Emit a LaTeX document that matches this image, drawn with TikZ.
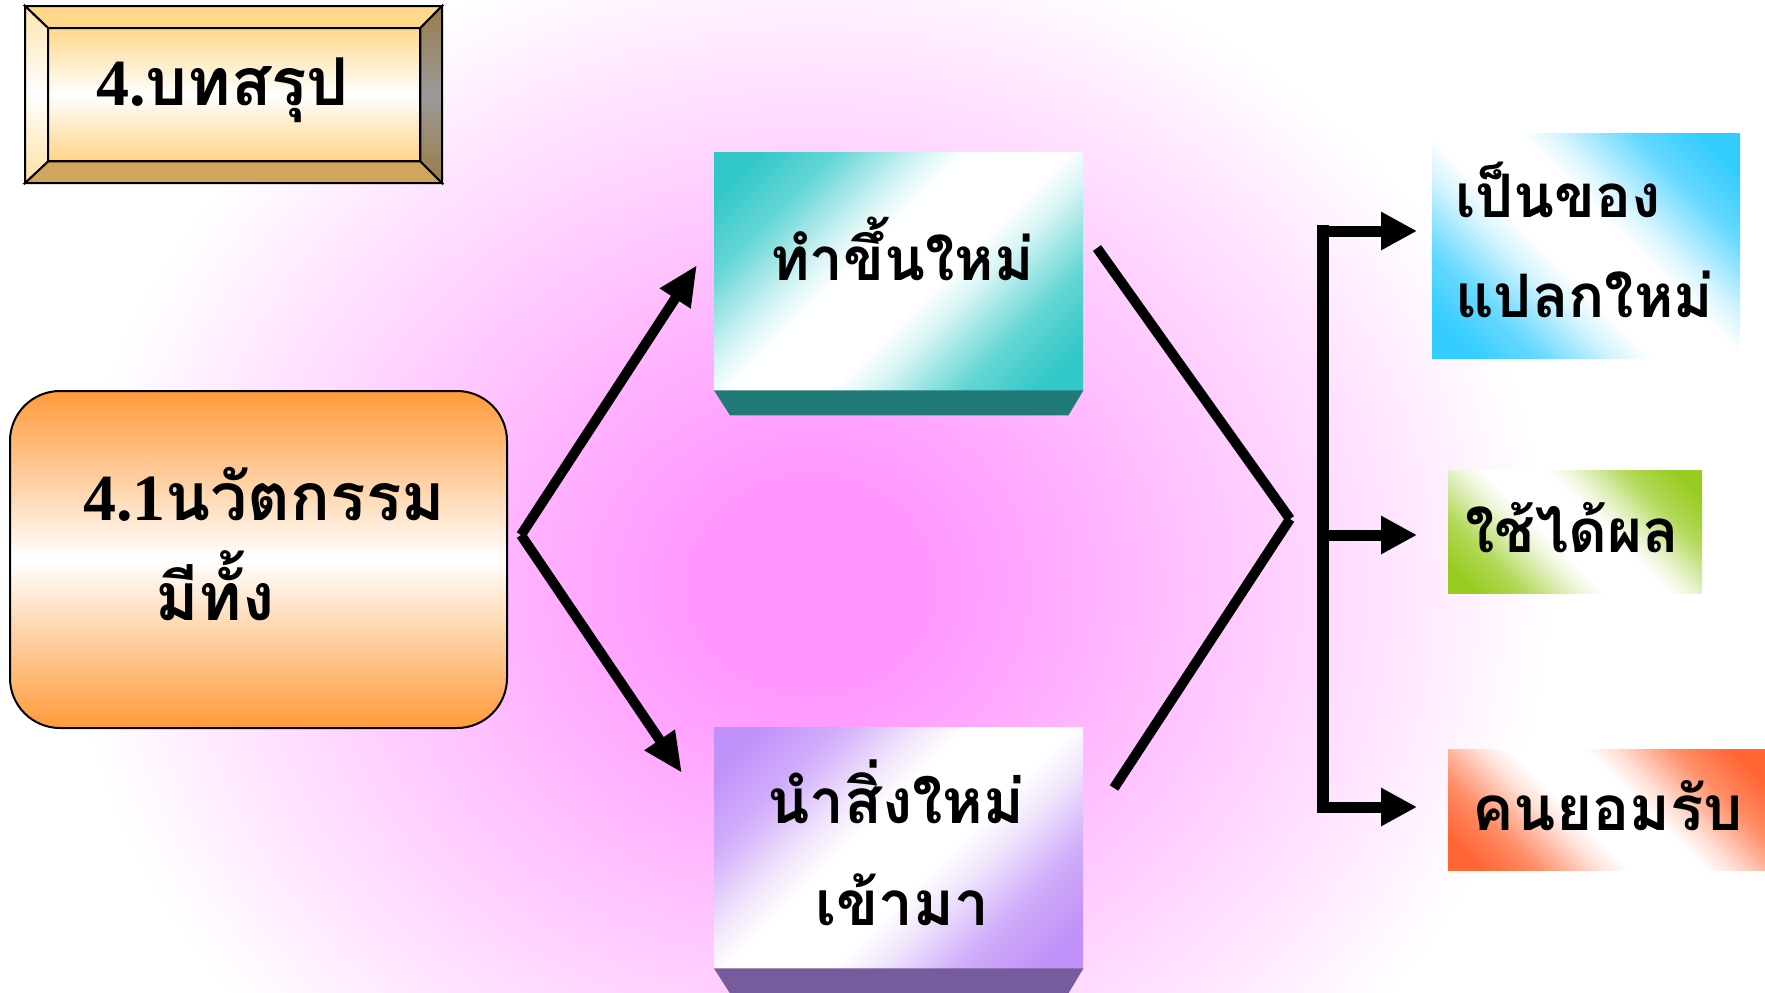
\documentclass[tikz,border=0pt]{standalone}
\usepackage{fontspec}
\newfontfamily\thaifont[Script=Thai]{Loma}
\newfontfamily\serifdig{Liberation Serif}
\usetikzlibrary{arrows.meta,calc}
\definecolor{pinkc}{RGB}{255,150,255}
\definecolor{orangec}{RGB}{255,154,58}
\definecolor{goldc}{RGB}{255,216,140}
\definecolor{goldbot}{RGB}{207,166,92}
\definecolor{goldr1}{RGB}{152,124,74}
\definecolor{goldr2}{RGB}{154,154,154}
\definecolor{goldr3}{RGB}{156,124,68}
\definecolor{tealc}{RGB}{51,200,200}
\definecolor{tealdark}{RGB}{32,122,120}
\definecolor{purc}{RGB}{192,145,248}
\definecolor{purdark}{RGB}{118,92,156}
\definecolor{cyanc}{RGB}{51,204,255}
\definecolor{greenc}{RGB}{153,204,34}
\definecolor{redc}{RGB}{255,102,51}
\pgfdeclareradialshading{bgshade}{\pgfpoint{0bp}{0bp}}{color(0bp)=(pinkc); color(4bp)=(pinkc); color(25bp)=(white); color(50bp)=(white)}
\newcommand\mkdiag[2]{\pgfdeclarehorizontalshading{#1}{100bp}{color(0bp)=(#2); color(20bp)=(#2); color(29bp)=(#2!75!white); color(39bp)=(#2!20!white); color(44bp)=(white); color(56bp)=(white); color(61bp)=(#2!20!white); color(71bp)=(#2!75!white); color(80bp)=(#2); color(100bp)=(#2)}}
\mkdiag{tealdiag}{tealc}
\mkdiag{purdiag}{purc}
\mkdiag{cyandiag}{cyanc}
\mkdiag{greendiag}{greenc}
\mkdiag{reddiag}{redc}
\tikzset{
  txt/.style={font=\thaifont\bfseries\fontsize{#1}{#1}\selectfont, inner sep=0pt, anchor=base west},
  plainbox/.style={inner sep=0pt, anchor=north west},
  bevelline/.style={draw=black, line width=2pt, line join=miter},
  arrowline/.style={line width=10pt, -{Triangle[length=40pt,width=34pt]}},
  plainline/.style={line width=10pt},
  bracketline/.style={line width=12pt},
  brarrow/.style={line width=11pt, -{Triangle[length=36pt,width=36pt]}},
}
\begin{document}
\begin{tikzpicture}[x=1pt,y=-1pt]
\useasboundingbox (0,0) rectangle (1765,993);
\begin{scope}
  \clip (0,0) rectangle (1765,993);
  \fill[white] (0,0) rectangle (1765,993);
  \shade[shading=bgshade] (810,585) ellipse (740 and 660);
\end{scope}

% title box with bevel
\node[plainbox, minimum width=372pt, minimum height=133pt, top color=goldc, bottom color=goldc!95!orange, middle color=white] (titleface) at (48,28) {};
\filldraw[bevelline, fill=goldc] (25,6) -- (442,6) -- (titleface.north east) -- (titleface.north west) -- cycle;
\filldraw[bevelline, fill=goldbot] (25,183) -- (442,183) -- (titleface.south east) -- (titleface.south west) -- cycle;
\shade[top color=goldc!70!white, bottom color=goldc!80!white, middle color=white] (25,6) -- (titleface.north west) -- (titleface.south west) -- (25,183) -- cycle;
\draw[bevelline] (25,6) -- (titleface.north west) -- (titleface.south west) -- (25,183) -- cycle;
\shade[top color=goldr1, bottom color=goldr3, middle color=goldr2] (442,6) -- (titleface.north east) -- (titleface.south east) -- (442,183) -- cycle;
\draw[bevelline] (442,6) -- (titleface.north east) -- (titleface.south east) -- (442,183) -- cycle;
\draw[bevelline] (titleface.north west) rectangle (titleface.south east);
\node[txt=66] (titletxt) at (96,105) {{\serifdig 4.}บทสรุป};

% main rounded box
\node[plainbox, minimum width=497pt, minimum height=337pt, rounded corners=50pt, draw=black, line width=2pt, top color=orangec, bottom color=orangec, middle color=white] (main) at (9,390) {};
\node[txt=66] (maintxt1) at (83,520) {{\serifdig 4.1}นวัตกรรม};
\node[txt=66] (maintxt2) at (155,620) {มีทั้ง};

% teal box
\node[plainbox, minimum width=369pt, minimum height=238pt, shading=tealdiag, shading angle=-45, shade] (make) at (714,152) {};
\fill[tealdark] (make.south west) -- (make.south east) -- ($(make.south east)+(-15,25)$) -- ($(make.south west)+(16,25)$) -- cycle;
\node[txt=60] (maketxt) at (770,280) {ทำขึ้นใหม่};

% purple box
\node[plainbox, minimum width=369pt, minimum height=241pt, shading=purdiag, shading angle=-45, shade] (bring) at (714,727) {};
\fill[purdark] (bring.south west) -- (bring.south east) -- ($(bring.south east)+(-15,25)$) -- ($(bring.south west)+(16,25)$) -- cycle;
\node[txt=62] (bringtxt1) at (767,823) {นำสิ่งใหม่};
\node[txt=62] (bringtxt2) at (815,925) {เข้ามา};

% right boxes
\node[plainbox, minimum width=308pt, minimum height=225pt, shading=cyandiag, shading angle=45, shade] (novel) at (1432,133) {};
\node[txt=60] (noveltxt1) at (1455,217) {เป็นของ};
\node[txt=60] (noveltxt2) at (1455,317) {แปลกใหม่};
\node[plainbox, minimum width=254pt, minimum height=123pt, shading=greendiag, shading angle=45, shade] (works) at (1448,470) {};
\node[txt=60] (workstxt) at (1465,552) {ใช้ได้ผล};
\node[plainbox, minimum width=317pt, minimum height=121pt, shading=reddiag, shading angle=45, shade] (accept) at (1448,749) {};
\node[txt=62] (accepttxt) at (1472,830) {คนยอมรับ};

% left arrows
\coordinate (splitL) at (521,535);
\coordinate (tipA) at (697,265);
\coordinate (tipB) at (682,773);
\draw[arrowline] (splitL) -- (tipA);
\draw[arrowline] (splitL) -- (tipB);

% right V
\coordinate (vA) at (1097,248);
\coordinate (vB) at (1114,788);
\coordinate (vJ) at (1290,519);
\draw[plainline] (vA) -- (vJ);
\draw[plainline] (vB) -- (vJ);

% bracket
\coordinate (brTop) at (1323,225);
\coordinate (brBot) at (1323,813);
\coordinate (brA) at (1317,231);
\coordinate (brB) at (1323,535);
\coordinate (brC) at (1317,807);
\coordinate (endA) at (1417,231);
\coordinate (endB) at (1417,535);
\coordinate (endC) at (1417,807);
\draw[bracketline] (brTop) -- (brBot);
\draw[brarrow] (brA) -- (endA);
\draw[brarrow] (brB) -- (endB);
\draw[brarrow] (brC) -- (endC);
\end{tikzpicture}
\end{document}
